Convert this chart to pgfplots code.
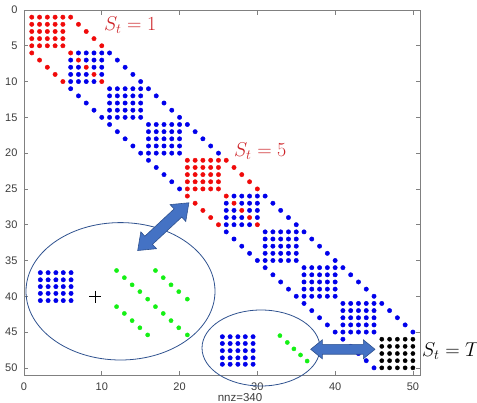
\RequirePackage{fix-cm}
\documentclass[border=0pt]{standalone}
\usepackage[no-math]{fontspec}
\setmainfont{Liberation Sans}
\usepackage{pgfplots}
\pgfplotsset{compat=1.18}
\definecolor{ellcol}{RGB}{47,82,143}
\definecolor{arrfill}{RGB}{68,114,196}
\definecolor{lblred}{RGB}{205,35,40}
\definecolor{axgray}{RGB}{128,128,128}
\definecolor{txtgray}{RGB}{60,60,60}
\definecolor{dotblue}{RGB}{0,0,235}
\definecolor{dotred}{RGB}{240,10,10}
\definecolor{dotgreen}{RGB}{20,240,20}
\begin{document}
\begin{tikzpicture}
\useasboundingbox (-24pt,-27pt) rectangle (453pt,375pt);
\begin{axis}[
  at={(0pt,0pt)}, anchor=south west,
  scale only axis, width=396.7pt, height=365pt,
  xmin=0, xmax=51, ymin=0, ymax=51, y dir=reverse,
  xtick={0,10,20,30,40,50}, ytick={0,5,...,50},
  tick align=inside, major tick length=4.5pt,
  xtick pos=both, ytick pos=both,
  axis line style={axgray, line width=0.6pt},
  tick style={axgray, line width=0.6pt},
  /pgf/number format/assume math mode=true,
  ticklabel style={font=\fontsize{11}{13}\selectfont, text=txtgray},
  xticklabel style={yshift=-4pt},
  yticklabel style={xshift=-3pt},
  clip=false,
]
% red entries
\addplot[only marks, mark=*, mark size=2.2pt, color=dotred] coordinates {
(1,1) (2,1) (3,1) (4,1) (5,1)
(1,2) (2,2) (3,2) (4,2) (5,2)
(1,3) (2,3) (3,3) (4,3) (5,3)
(1,4) (2,4) (3,4) (4,4) (5,4)
(1,5) (2,5) (3,5) (4,5) (5,5)
(6,1) (7,2) (8,3) (9,4) (10,5)
(1,6) (2,7) (3,8) (4,9) (5,10)
(6,6) (7,7) (8,8) (9,9) (10,10)
(21,21) (22,21) (23,21) (24,21) (25,21)
(21,22) (22,22) (23,22) (24,22) (25,22)
(21,23) (22,23) (23,23) (24,23) (25,23)
(21,24) (22,24) (23,24) (24,24) (25,24)
(21,25) (22,25) (23,25) (24,25) (25,25)
(26,21) (27,22) (28,23) (29,24) (30,25)
(21,26) (22,27) (23,28) (24,29) (25,30)
(26,26) (27,27) (28,28) (29,29) (30,30)
};
% blue entries
\addplot[only marks, mark=*, mark size=2.2pt, color=dotblue] coordinates {
(7,6) (8,6) (9,6) (10,6)
(6,7) (8,7) (9,7) (10,7)
(6,8) (7,8) (9,8) (10,8)
(6,9) (7,9) (8,9) (10,9)
(6,10) (7,10) (8,10) (9,10)
(11,11) (12,11) (13,11) (14,11) (15,11)
(11,12) (12,12) (13,12) (14,12) (15,12)
(11,13) (12,13) (13,13) (14,13) (15,13)
(11,14) (12,14) (13,14) (14,14) (15,14)
(11,15) (12,15) (13,15) (14,15) (15,15)
(16,16) (17,16) (18,16) (19,16) (20,16)
(16,17) (17,17) (18,17) (19,17) (20,17)
(16,18) (17,18) (18,18) (19,18) (20,18)
(16,19) (17,19) (18,19) (19,19) (20,19)
(16,20) (17,20) (18,20) (19,20) (20,20)
(27,26) (28,26) (29,26) (30,26)
(26,27) (28,27) (29,27) (30,27)
(26,28) (27,28) (29,28) (30,28)
(26,29) (27,29) (28,29) (30,29)
(26,30) (27,30) (28,30) (29,30)
(31,31) (32,31) (33,31) (34,31) (35,31)
(31,32) (32,32) (33,32) (34,32) (35,32)
(31,33) (32,33) (33,33) (34,33) (35,33)
(31,34) (32,34) (33,34) (34,34) (35,34)
(31,35) (32,35) (33,35) (34,35) (35,35)
(36,36) (37,36) (38,36) (39,36) (40,36)
(36,37) (37,37) (38,37) (39,37) (40,37)
(36,38) (37,38) (38,38) (39,38) (40,38)
(36,39) (37,39) (38,39) (39,39) (40,39)
(36,40) (37,40) (38,40) (39,40) (40,40)
(41,41) (42,41) (43,41) (44,41) (45,41)
(41,42) (42,42) (43,42) (44,42) (45,42)
(41,43) (42,43) (43,43) (44,43) (45,43)
(41,44) (42,44) (43,44) (44,44) (45,44)
(41,45) (42,45) (43,45) (44,45) (45,45)
(11,6) (12,7) (13,8) (14,9) (15,10) (16,11) (17,12) (18,13) (19,14) (20,15)
(21,16) (22,17) (23,18) (24,19) (25,20)
(31,26) (32,27) (33,28) (34,29) (35,30) (36,31) (37,32) (38,33) (39,34) (40,35)
(41,36) (42,37) (43,38) (44,39) (45,40) (46,41) (47,42) (48,43) (49,44) (50,45)
(6,11) (7,12) (8,13) (9,14) (10,15) (11,16) (12,17) (13,18) (14,19) (15,20)
(16,21) (17,22) (18,23) (19,24) (20,25)
(26,31) (27,32) (28,33) (29,34) (30,35) (31,36) (32,37) (33,38) (34,39) (35,40)
(36,41) (37,42) (38,43) (39,44) (40,45) (41,46) (42,47) (43,48) (44,49) (45,50)
};
% black entries
\addplot[only marks, mark=*, mark size=2.1pt, color=black] coordinates {
(46,46) (47,46) (48,46) (49,46) (50,46)
(46,47) (47,47) (48,47) (49,47) (50,47)
(46,48) (47,48) (48,48) (49,48) (50,48)
(46,49) (47,49) (48,49) (49,49) (50,49)
(46,50) (47,50) (48,50) (49,50) (50,50)
};
% inset 1: blue block
\addplot[only marks, mark=*, mark size=2.2pt, color=dotblue] coordinates {
(2.1,36.7) (3.1,36.7) (4.1,36.7) (5.05,36.7) (6.05,36.7)
(2.1,37.7) (3.1,37.7) (4.1,37.7) (5.05,37.7) (6.05,37.7)
(2.1,38.65) (3.1,38.65) (4.1,38.65) (5.05,38.65) (6.05,38.65)
(2.1,39.6) (3.1,39.6) (4.1,39.6) (5.05,39.6) (6.05,39.6)
(2.1,40.6) (3.1,40.6) (4.1,40.6) (5.05,40.6) (6.05,40.6)
};
% inset 1: plus sign
\addplot[only marks, mark=+, mark size=6pt, color=black, mark options={line width=0.7pt}] coordinates {(9.13,40.05)};
% inset 1: green diagonals
\addplot[only marks, mark=*, mark size=2.1pt, color=dotgreen] coordinates {
(11.9,36.4) (12.9,37.4) (13.9,38.4) (14.9,39.35) (15.9,40.4)
(16.9,36.4) (17.9,37.4) (18.9,38.4) (19.9,39.35) (21.0,40.4)
(11.9,41.45) (12.9,42.4) (13.9,43.4) (14.9,44.4) (15.9,45.4)
(16.9,41.45) (17.9,42.4) (18.9,43.4) (19.9,44.4) (21.0,45.4)
};
% inset 2: blue block
\addplot[only marks, mark=*, mark size=2.2pt, color=dotblue] coordinates {
(25.5,45.65) (26.5,45.65) (27.5,45.65) (28.45,45.65) (29.45,45.65)
(25.5,46.6) (26.5,46.6) (27.5,46.6) (28.45,46.6) (29.45,46.6)
(25.5,47.6) (26.5,47.6) (27.5,47.6) (28.45,47.6) (29.45,47.6)
(25.5,48.6) (26.5,48.6) (27.5,48.6) (28.45,48.6) (29.45,48.6)
(25.5,49.5) (26.5,49.5) (27.5,49.5) (28.45,49.5) (29.45,49.5)
};
% inset 2: green diagonal
\addplot[only marks, mark=*, mark size=2.1pt, color=dotgreen] coordinates {
(32.9,45.5) (33.85,46.45) (34.7,47.35) (35.55,48.2) (36.4,49.05)
};
\end{axis}
% ellipses
\draw[ellcol, line width=0.8pt] (96.5pt,83.7pt) ellipse [x radius=94.5pt, y radius=68.7pt];
\draw[ellcol, line width=0.8pt] (237pt,27pt) ellipse [x radius=59pt, y radius=38pt];
% arrows
\begin{scope}[shift={(139.3pt,148.35pt)}, rotate=43]
\filldraw[fill=arrfill, draw=ellcol, line width=0.6pt, line join=miter]
 (-35pt,0pt) -- (-20pt,11.5pt) -- (-20pt,5.6pt) -- (20pt,5.6pt) -- (20pt,11.5pt)
 -- (35pt,0pt) -- (20pt,-11.5pt) -- (20pt,-5.6pt) -- (-20pt,-5.6pt) -- (-20pt,-11.5pt) -- cycle;
\end{scope}
\begin{scope}[shift={(318.85pt,25.7pt)}]
\filldraw[fill=arrfill, draw=ellcol, line width=0.6pt, line join=miter]
 (-32.15pt,0pt) -- (-20.5pt,9.5pt) -- (-20.5pt,4.9pt) -- (20.5pt,4.9pt) -- (20.5pt,9.5pt)
 -- (32.15pt,0pt) -- (20.5pt,-9.5pt) -- (20.5pt,-4.9pt) -- (-20.5pt,-4.9pt) -- (-20.5pt,-9.5pt) -- cycle;
\end{scope}
% labels
\node[anchor=base west, inner sep=0pt, text=lblred, font=\fontsize{20}{23}\selectfont] at (80pt,344.3pt) {$S_t = 1$};
\node[anchor=base west, inner sep=0pt, text=lblred, font=\fontsize{20}{23}\selectfont] at (210pt,218.3pt) {$S_t = 5$};
\node[anchor=base west, inner sep=0pt, text=black, font=\fontsize{20}{23}\selectfont] at (398pt,18.3pt) {$S_t = T$};
\node[anchor=base, inner sep=0pt, text=txtgray, font=\fontsize{11.5}{13}\selectfont] at (216pt,-26pt) {nnz=340};
\end{tikzpicture}
\end{document}
